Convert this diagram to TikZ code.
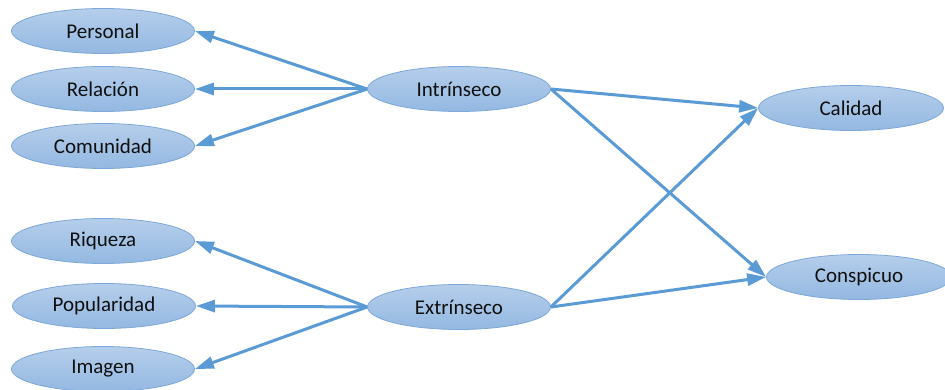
\documentclass[tikz,border=0pt]{standalone}
\usepackage{fontspec}
\setmainfont{Carlito}
\usepackage{tikz}
\usetikzlibrary{arrows.meta,shapes.geometric}
\definecolor{edgeblue}{HTML}{5B9BD5}
\definecolor{linecol}{HTML}{7DA7D9}
\definecolor{topcol}{HTML}{B5CEEB}
\definecolor{botcol}{HTML}{94B8E2}
\definecolor{txtcol}{HTML}{101010}

\begin{document}
\begin{tikzpicture}[x=1pt,y=-1pt]
\tikzstyle{oval}=[ellipse,draw=linecol,line width=0.8pt,top color=topcol,bottom color=botcol,minimum width=183pt,minimum height=45pt,inner sep=0pt,text=txtcol,font=\fontsize{21}{24}\selectfont]
\tikzstyle{link}=[draw=edgeblue,line width=3pt,-{Triangle[length=19pt,width=12pt]}]
\useasboundingbox (0,0) rectangle (945,390);
\node[oval] (per) at (103,31) {Personal};
\node[oval] (rel) at (103,89) {Relación};
\node[oval] (com) at (103,146) {Comunidad};
\node[oval] (riq) at (103,241) {Riqueza};
\node[oval] (pop) at (104,306) {Popularidad};
\node[oval] (ima) at (103,369) {Imagen};
\node[oval] (int) at (459,89) {Intrínseco};
\node[oval] (ext) at (459,307) {Extrínseco};
\node[oval,minimum width=185pt] (cal) at (851,108) {Calidad};
\node[oval,minimum width=185pt] (con) at (859,277) {Conspicuo};
\draw[link] (int.west) -- (per.east);
\draw[link] (int.west) -- (rel.east);
\draw[link] (int.west) -- (com.east);
\draw[link] (ext.west) -- (riq.east);
\draw[link] (ext.west) -- (pop.east);
\draw[link] (ext.west) -- (ima.east);
\draw[link] (int.east) -- (cal.west);
\draw[link] (int.east) -- (con.west);
\draw[link] (ext.east) -- (cal.west);
\draw[link] (ext.east) -- (con.west);
\end{tikzpicture}
\end{document}
